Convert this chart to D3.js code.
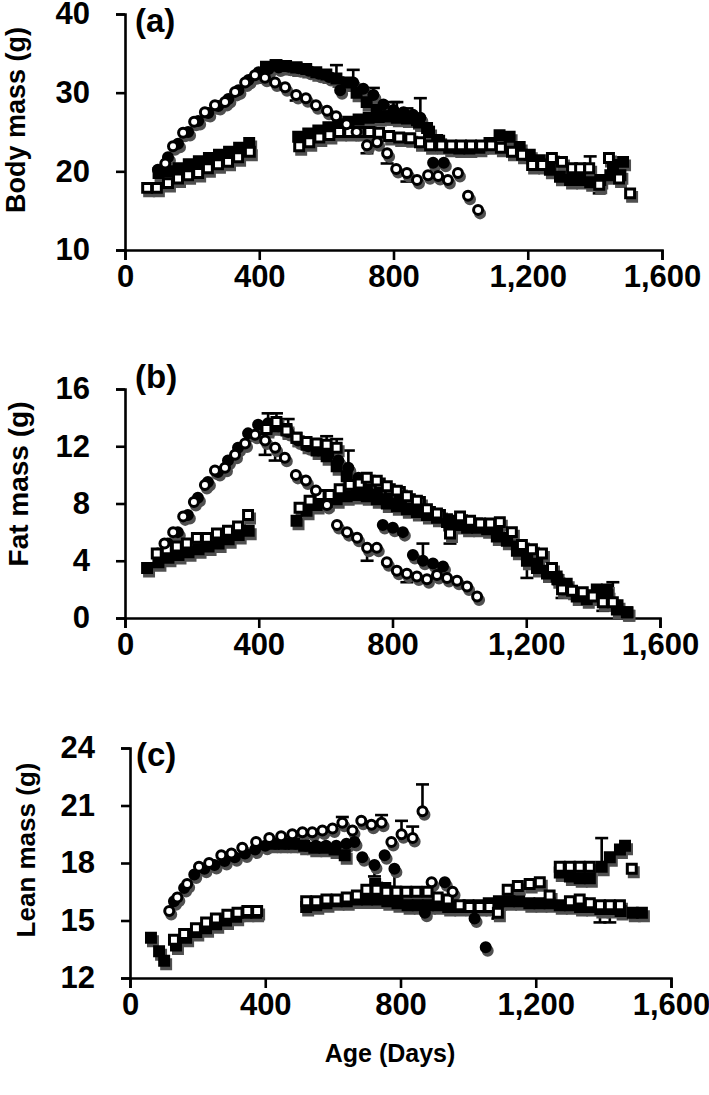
<!DOCTYPE html>
<html><head><meta charset="utf-8">
<script src="https://cdn.jsdelivr.net/npm/d3@7"></script>
<style>
body{margin:0;background:#fff}
svg text{font-family:"Liberation Sans",Arial,sans-serif;font-weight:bold;fill:#000}
</style>
</head><body>
<svg id="chart" width="709" height="1095"></svg>
<script>
// ---------- tick labels / categories ----------
const xTicks = [0, 400, 800, 1200, 1600];
const aYTicks = [10, 20, 30, 40];
const bYTicks = [0, 4, 8, 12, 16];
const cYTicks = [12, 15, 18, 21, 24];
const panelLetters = ["(a)", "(b)", "(c)"];
const yTitles = ["Body mass (g)", "Fat mass (g)", "Lean mass (g)"];
const xTitle = "Age (Days)";

// ---------- data: [age (days), value (g), error (g; + above, - below, 0 none)] ----------
// Panel (a) body mass
const aOpenCircle = [[120,21.0],[143,23.2],[173,24.9],[206,26.3],[238,27.5],[268,28.4],[298,28.8],[328,30.1],[358,31.3],[387,32.2],[417,31.9,-0.6],[447,31.3],[477,30.7],[510,29.7,-0.7],[539,29.3],[569,28.4],[602,27.7],[629,27.0],[660,26.0],[690,25.0],[721,23.3,-1.0],[751,23.7],[781,22.3,-1.3],[808,20.3],[840,19.8,-1.1],[870,18.9],[903,19.5],[933,19.4],[962,18.9],[992,19.8],[1022,16.9],[1052,15.1]];
const aFilledCircle = [[98,20.2],[128,21.8],[158,23.5],[188,25.0],[218,26.4],[248,27.4],[278,28.3],[308,29.2],[338,30.3],[368,31.6],[398,32.6],[428,33.0],[458,33.2],[488,33.3],[518,33.1],[548,32.8],[578,32.4],[608,32.0],[641,30.3],[680,31.3,1.6],[710,30.5],[740,29.7,0.9],[770,28.5],[800,27.8,1.0],[830,27.5],[858,27.2],[880,26.8,2.5],[918,21.1],[950,21.1]];
const aOpenSquareE = [[66,17.9],[95,17.9],[128,18.5],[158,19.1],[188,19.5],[218,19.8],[247,20.4],[277,20.9],[307,21.2],[337,21.8],[372,22.5],[519,23.2],[549,23.7],[579,24.3],[609,24.6],[638,25.0],[668,25.0],[698,25.0],[728,25.0],[757,24.9],[787,24.5],[817,24.3],[850,24.2],[879,23.7],[909,23.3],[942,23.3],[972,23.3],[1001,23.3],[1031,23.3],[1061,23.3],[1091,23.3],[1120,23.0],[1153,22.5],[1183,22.1],[1213,20.8],[1243,20.8],[1332,20.4],[1356,20.4],[1383,20.4],[1413,18.3,-1.1],[1472,19.1],[1505,17.2]];
const aOpenSquareL = [[1272,21.7],[1302,21.2],[1442,21.7]];
const aFilledSquareE = [[100,19.8],[130,20.0],[160,20.4],[190,20.9],[220,21.3],[250,21.7],[280,22.1],[310,22.5],[340,23.0],[370,23.6],[516,24.4],[546,24.8],[576,25.2],[606,25.6],[636,26.0],[666,26.3],[696,26.6],[726,26.8],[756,26.9],[786,27.0],[816,27.1],[846,26.8],[876,26.2],[906,25.0],[936,23.9],[966,23.0],[996,22.9],[1026,22.9],[1056,23.0],[1086,23.6],[1116,24.6],[1146,24.4],[1176,23.1],[1206,22.1],[1236,21.4],[1266,20.2],[1296,19.3],[1326,18.9],[1356,18.9],[1386,18.6,3.3],[1416,18.9],[1446,19.5],[1476,19.5]];
const aFilledSquareL = [[420,33.3],[450,33.5,0.6],[480,33.4],[510,33.2,0.6],[540,33.0],[570,32.6],[600,32.3],[630,31.8,1.7],[660,31.3],[690,30.0],[720,28.8],[750,27.8],[780,27.0],[810,26.8,2.0],[840,26.7,1.3],[870,26.5],[900,25.5],[930,24.0],[1454,20.8],[1484,21.2]];

// Panel (b) fat mass
const bOpenCircle = [[118,5.2],[144,6.0],[174,7.1],[206,8.1],[239,9.3],[269,10.3],[299,10.5],[329,11.4],[359,12.2],[389,12.8],[419,12.4,-1.0],[449,11.9,-0.9],[478,11.2],[511,10.0],[541,9.6],[571,8.9],[604,7.9],[634,6.5],[664,6.0],[694,5.6],[724,4.9,-0.9],[753,4.9],[783,3.9],[813,3.3],[843,3.1,-0.6],[873,2.9],[903,2.7],[933,3.0],[963,2.8],[993,2.6],[1023,2.2],[1053,1.5]];
const bFilledCircle = [[98,4.5],[128,5.2],[158,6.0],[188,7.2],[218,8.4],[248,9.5],[278,10.2],[308,11.0],[338,11.9],[368,12.9],[398,13.5],[428,13.6,0.7],[458,13.4],[488,13.0,0.9],[518,12.4],[548,12.0],[578,11.7],[608,11.4],[638,11.0],[668,10.5,1.2],[698,9.8],[728,8.8],[771,6.5],[801,6.3],[831,6.0],[861,4.4],[891,4.0,1.2],[921,3.8],[951,3.6]];
const bOpenSquareE = [[95,4.5],[125,4.8],[155,5.0],[185,5.2],[215,5.6],[245,5.6],[275,5.9],[308,6.1],[338,6.4],[368,7.2],[522,7.7],[552,8.2],[582,8.6],[612,8.6],[642,9.0],[672,9.3],[702,9.4],[732,9.6],[762,9.4],[792,9.0],[822,8.8],[852,8.3],[882,8.1],[912,7.4],[942,7.2],[972,5.9,-0.7],[1002,7.1],[1032,6.8],[1062,6.6],[1092,6.6],[1121,6.7],[1157,6.0],[1187,5.1],[1217,4.8],[1247,4.5],[1277,3.5],[1307,2.0,-0.6],[1337,1.9],[1369,1.8],[1399,1.5],[1429,1.1,-0.6],[1459,1.1,1.4]];
const bOpenSquareL = [[423,13.2],[453,13.7,0.6],[483,13.1],[513,12.6],[543,12.3],[573,12.2],[603,12.1,0.6],[633,11.9,0.6],[723,9.8],[753,9.6],[783,9.2],[813,8.9],[843,8.5],[873,8.2],[903,7.6],[933,7.3]];
const bFilledSquareE = [[66,3.5],[100,3.9],[130,4.2],[160,4.4],[190,4.6],[220,4.8],[250,5.0],[280,5.2],[310,5.5],[340,5.8],[370,6.1],[513,6.8],[543,7.5],[573,7.9],[603,8.1],[633,8.3],[663,8.5],[693,8.6],[723,8.5],[753,8.3],[783,8.0],[813,7.8],[843,7.6],[873,7.4],[903,7.2],[933,7.0],[963,6.9],[993,6.8],[1023,6.7],[1053,6.6],[1083,6.4],[1112,5.7],[1142,5.4],[1172,4.7],[1202,4.0,-1.2],[1232,3.5],[1262,3.1],[1291,2.9],[1321,2.4],[1351,1.5],[1381,1.3],[1411,2.0],[1441,2.0],[1471,0.6],[1501,0.4]];
const bFilledSquareL = [[423,13.3],[453,13.4],[483,13.2],[513,12.6],[543,12.1],[573,11.7],[603,11.3],[633,10.6],[663,9.9],[693,9.2],[723,8.8],[753,8.6],[783,8.3],[813,8.0],[843,7.7],[873,7.5],[903,7.3],[933,7.1],[963,6.7],[993,6.5],[1023,6.3],[1053,6.3],[1083,6.2],[1113,6.0],[1143,5.6],[1173,5.0],[1203,4.3],[1233,3.8],[1263,3.3],[1293,2.7],[1323,2.0],[1353,1.7],[1383,1.6],[1413,1.8],[1443,1.6],[1473,0.9],[1503,0.4]];

// Panel (c) lean mass
const cOpenCircle = [[116,15.5],[140,16.2],[169,16.9],[204,17.8],[234,18.0],[270,18.4],[300,18.5],[332,18.8],[373,19.1],[412,19.3],[447,19.4],[480,19.5],[510,19.6],[539,19.6],[569,19.7],[599,19.8],[628,20.1,0.3],[658,19.7],[684,20.2],[714,20.0],[744,20.1,0.4],[773,19.1],[803,19.5,0.7],[836,19.3,0.6],[865,20.7,1.4],[892,17.0],[954,16.5]];
const cFilledCircle = [[130,16.0],[160,16.7],[190,17.4],[220,17.7],[250,17.9],[280,18.1],[310,18.3],[340,18.5],[370,18.7],[400,18.9],[430,19.0],[460,19.0],[490,19.0],[520,18.9],[550,18.9],[580,18.9],[610,18.9],[640,19.0],[664,19.1],[687,18.3],[723,17.9,-0.6],[753,18.4],[782,17.7,-1.0],[872,15.4],[931,17.0],[1019,15.1],[1052,13.6]];
const cOpenSquareE = [[130,14.0],[160,14.3],[195,14.6],[225,14.9],[254,15.1],[288,15.3],[318,15.4],[347,15.5],[376,15.5],[521,16.0],[551,16.0],[581,16.1],[611,16.1],[641,16.2],[671,16.3],[699,16.6],[729,16.6],[758,16.5],[788,16.5],[817,16.5],[847,16.5],[880,16.5],[910,16.2],[940,16.1],[975,15.8],[1004,15.7],[1034,15.7],[1063,15.7],[1088,15.4,-0.3],[1301,16.0],[1330,16.1],[1360,15.9,-0.6],[1390,15.8,-0.9],[1419,15.8,-0.9],[1449,15.8]];
const cOpenSquareL = [[1117,16.6],[1147,16.8],[1182,16.9],[1212,17.0],[1241,16.3],[1271,17.8],[1301,17.8],[1330,17.8],[1360,17.8],[1484,17.7]];
const cFilledSquareE = [[62,14.1],[86,13.4],[101,12.9],[136,13.7],[166,14.1],[196,14.4],[225,14.6],[255,14.8],[284,15.0],[314,15.2],[344,15.4],[373,15.4],[521,15.7],[551,15.8],[581,15.9],[611,16.0],[641,16.0],[671,16.1],[701,16.1],[731,16.1],[761,16.0],[791,15.9],[821,15.8],[851,15.8],[881,15.8],[911,15.8],[941,15.7],[971,15.7],[1001,15.8],[1031,15.8],[1061,15.9],[1091,16.0],[1121,16.0],[1151,16.0],[1181,15.9],[1211,15.9],[1241,15.9],[1271,15.8],[1301,15.8],[1331,15.7],[1361,15.7],[1391,15.6],[1421,15.6],[1451,15.5],[1487,15.4],[1514,15.4]];
const cFilledSquareL = [[425,19.0],[455,19.0],[485,19.0],[515,18.9],[545,18.8],[575,18.8],[605,18.7],[635,18.4],[725,16.9],[755,16.7],[785,16.5],[1271,17.5],[1301,17.3],[1330,17.2],[1360,17.2],[1395,17.8,1.5],[1419,18.3],[1449,18.7],[1464,18.9]];

// ---------- drawing ----------
const svg = d3.select("#chart");
const FONT = '"Liberation Sans", Arial, sans-serif';

const panels = [
  {left:125, right:662, top:14,  bottom:250, dom:[10,40], yt:aYTicks, letter:[135,32],  ttl:[16,120], ttlSize:27,
   series:[aFilledSquareE,aFilledSquareL,aFilledCircle,aOpenSquareE,aOpenSquareL,aOpenCircle]},
  {left:125, right:660, top:389, bottom:618, dom:[0,16],  yt:bYTicks, letter:[135,388], ttl:[18,484], ttlSize:28,
   series:[bFilledSquareE,bFilledSquareL,bFilledCircle,bOpenSquareE,bOpenSquareL,bOpenCircle]},
  {left:130, right:671, top:748, bottom:978, dom:[12,24], yt:cYTicks, letter:[136,766], ttl:[26,850], ttlSize:26,
   series:[cFilledSquareE,cFilledSquareL,cFilledCircle,cOpenSquareE,cOpenSquareL,cOpenCircle]}
];
// marker style for series positions above
const styles = [
  {type:d3.symbolSquare, fill:"#000"},
  {type:d3.symbolSquare, fill:"#000"},
  {type:d3.symbolCircle, fill:"#000"},
  {type:d3.symbolSquare, fill:"#fff"},
  {type:d3.symbolSquare, fill:"#fff"},
  {type:d3.symbolCircle, fill:"#fff"}
];
const symSize = {square:80, circle:Math.PI*4.5*4.5};

panels.forEach((p, i) => {
  const g = svg.append("g");
  const x = d3.scaleLinear().domain([0,1600]).range([p.left, p.right]);
  const y = d3.scaleLinear().domain(p.dom).range([p.bottom, p.top]);

  const xa = g.append("g").attr("transform", `translate(0,${p.bottom})`)
    .call(d3.axisBottom(x).tickValues(xTicks).tickFormat(d3.format(",")).tickSize(10).tickSizeOuter(10).tickPadding(5));
  const ya = g.append("g").attr("transform", `translate(${p.left},0)`)
    .call(d3.axisLeft(y).tickValues(p.yt).tickSize(9).tickSizeOuter(9).tickPadding(26));
  [xa, ya].forEach(a => {
    a.attr("font-size", 31).attr("font-family", FONT).attr("font-weight", "bold");
    a.selectAll("path,line").attr("stroke", "#000").attr("stroke-width", 2.6);
    a.selectAll("text").attr("fill", "#000");
  });

  g.append("text").attr("x", p.letter[0]).attr("y", p.letter[1]).attr("font-size", 33).text(panelLetters[i]);
  g.append("text").attr("transform", `translate(${p.ttl[0]},${p.ttl[1]}) rotate(-90)`)
    .attr("text-anchor", "middle").attr("dy", "0.35em").attr("font-size", p.ttlSize).text(yTitles[i]);

  // error bars
  const eg = g.append("g").attr("stroke", "#000").attr("stroke-width", 2.6);
  p.series.forEach(s => {
    s.filter(d => d[2]).forEach(d => {
      const cx = x(d[0]), y0 = y(d[1]), y1 = y(d[1] + d[2]);
      eg.append("line").attr("x1", cx).attr("x2", cx).attr("y1", y0).attr("y2", y1);
      eg.append("line").attr("x1", cx - 6.5).attr("x2", cx + 6.5).attr("y1", y1).attr("y2", y1);
    });
  });

  // shadows
  const sg = g.append("g").attr("transform", "translate(2,3.5)");
  p.series.forEach((s, k) => {
    const st = styles[k];
    const sym = d3.symbol().type(st.type).size(st.type === d3.symbolCircle ? symSize.circle : symSize.square);
    sg.selectAll(null).data(s).enter().append("path")
      .attr("d", sym).attr("transform", d => `translate(${x(d[0])},${y(d[1])})`)
      .attr("fill", "#505050").attr("stroke", "#505050").attr("stroke-width", 3);
  });

  // markers
  p.series.forEach((s, k) => {
    const st = styles[k];
    const sym = d3.symbol().type(st.type).size(st.type === d3.symbolCircle ? symSize.circle : symSize.square);
    g.append("g").selectAll("path").data(s).enter().append("path")
      .attr("d", sym).attr("transform", d => `translate(${x(d[0])},${y(d[1])})`)
      .attr("fill", st.fill).attr("stroke", "#000").attr("stroke-width", 3);
  });
});

svg.append("text").attr("x", 390).attr("y", 1062).attr("text-anchor", "middle").attr("font-size", 25).text(xTitle);
</script>
</body></html>
